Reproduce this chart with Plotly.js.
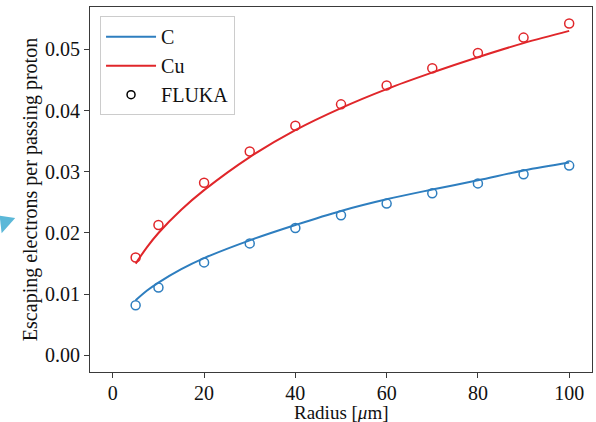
<!DOCTYPE html>
<html>
<head>
<meta charset="utf-8">
<script src="https://cdn.plot.ly/plotly-3.0.1.min.js"></script>
<style>html,body{margin:0;padding:0;background:#fff;}#chart{width:596px;height:422px;}</style>
</head>
<body>
<div id="chart"></div>
<script>
// FLUKA simulation points
const flukaRadius = [5, 10, 20, 30, 40, 50, 60, 70, 80, 90, 100];
const flukaC  = [0.0082, 0.0111, 0.0152, 0.0183, 0.0208, 0.0229, 0.0248, 0.0265, 0.0281, 0.0296, 0.0310];
const flukaCu = [0.0160, 0.0213, 0.0282, 0.0333, 0.0375, 0.0410, 0.0441, 0.0469, 0.0494, 0.0519, 0.0542];
// Model curves
const curveRadius = [5, 7.5, 10, 15, 20, 30, 40, 50, 60, 70, 80, 90, 100];
const curveC  = [0.0090, 0.0106, 0.0119, 0.0141, 0.0159, 0.0188, 0.0213, 0.0236, 0.0255, 0.0271, 0.0286, 0.0302, 0.0315];
const curveCu = [0.0150, 0.0177, 0.0200, 0.0238, 0.0270, 0.0324, 0.0368, 0.0404, 0.0435, 0.0462, 0.0487, 0.0510, 0.0530];
const xTicks = [0, 20, 40, 60, 80, 100];
const yTicks = [0.00, 0.01, 0.02, 0.03, 0.04, 0.05];

const blue = '#2e7ebf', red = '#e0262a';
const font = {family: '"Liberation Serif", "DejaVu Serif", serif', size: 20, color: '#111'};

const traces = [
  {x: curveRadius, y: curveC, mode: 'lines', name: 'C', line: {color: blue, width: 2, shape: 'spline'}, legendgroup: 'a'},
  {x: curveRadius, y: curveCu, mode: 'lines', name: 'Cu', line: {color: red, width: 2, shape: 'spline'}, legendgroup: 'b'},
  {x: flukaRadius, y: flukaC, mode: 'markers', showlegend: false, marker: {symbol: 'circle-open', size: 9, color: blue, line: {width: 1.5, color: blue}}},
  {x: flukaRadius, y: flukaCu, mode: 'markers', showlegend: false, marker: {symbol: 'circle-open', size: 9, color: red, line: {width: 1.5, color: red}}},
  {x: [null], y: [null], mode: 'markers', name: 'FLUKA', legendgroup: 'c', marker: {symbol: 'circle-open', size: 8, color: '#000', line: {width: 1.5, color: '#000'}}}
];

const axisCommon = {
  showgrid: false, zeroline: false, showline: true, mirror: true,
  linecolor: '#3a3a3a', linewidth: 1, ticks: 'outside', ticklen: 5, tickwidth: 1, tickcolor: '#3a3a3a',
  tickfont: font
};

const layout = {
  width: 596, height: 422,
  margin: {l: 90, r: 4, t: 7, b: 50},
  paper_bgcolor: '#fff', plot_bgcolor: '#fff',
  font: font,
  xaxis: Object.assign({}, axisCommon, {
    range: [-5, 105], tickvals: xTicks, ticktext: xTicks.map(String), ticklabelstandoff: -2
  }),
  yaxis: Object.assign({}, axisCommon, {
    range: [-0.0027, 0.0569], tickvals: yTicks, ticktext: yTicks.map(v => v.toFixed(2)),
    title: {text: 'Escaping electrons per passing proton', font: font, standoff: 2}
  }),
  annotations: [{
    text: 'Radius [<i>μ</i>m]', xref: 'paper', yref: 'paper', x: 0.5, y: -0.1123,
    xanchor: 'center', yanchor: 'middle', showarrow: false,
    font: Object.assign({}, font, {size: 19})
  }],
  legend: {
    x: 0.02, y: 0.975, xanchor: 'left', yanchor: 'top',
    bgcolor: '#fff', bordercolor: '#cccccc', borderwidth: 1,
    font: font, traceorder: 'grouped', tracegroupgap: 0, itemwidth: 50
  },
  shapes: [{
    type: 'path', xref: 'paper', yref: 'paper',
    path: 'M -0.18 0.428 L -0.149 0.422 L -0.176 0.38 Z',
    fillcolor: '#5bb8d8', line: {width: 0}
  }],
  showlegend: true
};

Plotly.newPlot('chart', traces, layout, {displayModeBar: false, staticPlot: true});
</script>
</body>
</html>
